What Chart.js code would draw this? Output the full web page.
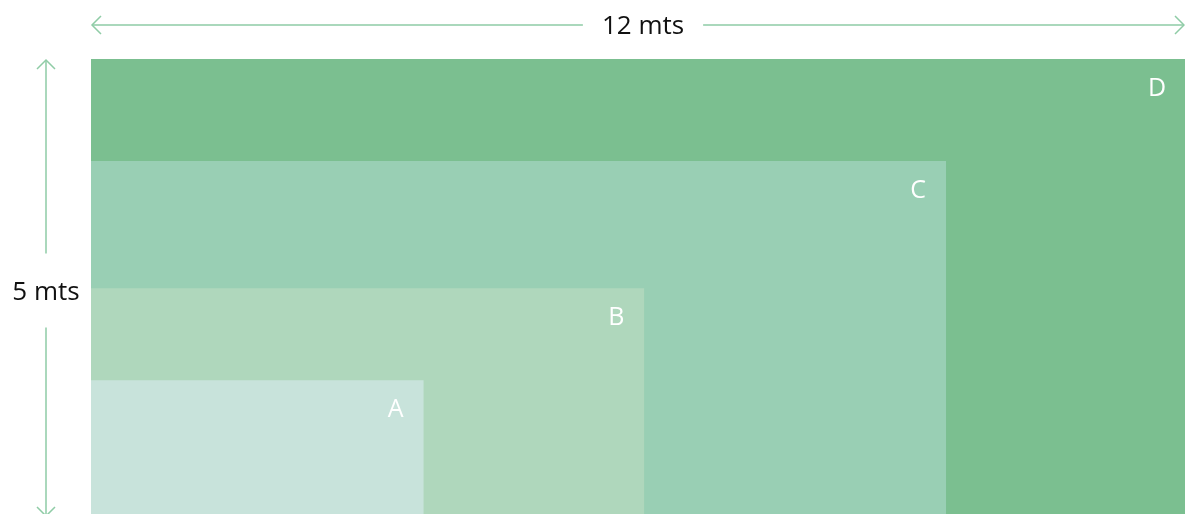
<!DOCTYPE html>
<html>
<head>
<meta charset="utf-8">
<script src="https://cdn.jsdelivr.net/npm/chart.js@4/dist/chart.umd.min.js"></script>
<style>
html,body{margin:0;padding:0;background:#fff;}
#wrap{width:1185px;height:514px;position:relative;}
</style>
</head>
<body>
<div id="wrap"><canvas id="c"></canvas></div>
<script>
// Data
const categories = ['A', 'B', 'C', 'D'];
const widths = [3.65, 6.07, 9.38, 12];   // mts
const heights = [1.47, 2.48, 3.88, 5];   // mts
const totalWidthLabel = '12 mts';
const totalHeightLabel = '5 mts';
const xMax = 12;
const yMax = 5;

const colors = ['#c8e3db', '#afd7bc', '#99cfb4', '#7bbf90'];
const arrowColor = '#8fcca6';
const FONT = '"Open Sans", sans-serif';

const datasets = categories.map((name, i) => ({
  label: name,
  data: [{x: 0, y: heights[i]}, {x: widths[i], y: heights[i]}, {x: widths[i], y: 0}],
  showLine: true,
  fill: 'origin',
  backgroundColor: colors[i],
  borderColor: colors[i],
  borderWidth: 0,
  pointRadius: 0,
  tension: 0,
  order: i
}));

function arrowHead(ctx, x, y, dir) {
  const L = 9;
  ctx.beginPath();
  if (dir === 'left') { ctx.moveTo(x + L, y - L); ctx.lineTo(x, y); ctx.lineTo(x + L, y + L); }
  if (dir === 'right') { ctx.moveTo(x - L, y - L); ctx.lineTo(x, y); ctx.lineTo(x - L, y + L); }
  if (dir === 'up') { ctx.moveTo(x - L, y + L); ctx.lineTo(x, y); ctx.lineTo(x + L, y + L); }
  if (dir === 'down') { ctx.moveTo(x - L, y - L); ctx.lineTo(x, y); ctx.lineTo(x + L, y - L); }
  ctx.stroke();
}

const decor = {
  id: 'decor',
  afterDatasetsDraw(chart) {
    const {ctx, scales: {x, y}} = chart;
    ctx.save();
    // labels on rectangles
    ctx.fillStyle = '#ffffff';
    ctx.font = '400 25px ' + FONT;
    ctx.textAlign = 'center';
    ctx.textBaseline = 'middle';
    categories.forEach((name, i) => {
      const px = x.getPixelForValue(widths[i]) - 28;
      const py = y.getPixelForValue(heights[i]) + 30;
      ctx.fillText(name, px, py);
    });
    // top arrow
    const x0 = x.getPixelForValue(0), x1 = x.getPixelForValue(xMax);
    const y0 = y.getPixelForValue(yMax), y1 = y.getPixelForValue(0);
    const ty = y0 - 34;
    ctx.font = '400 26px ' + FONT;
    ctx.strokeStyle = arrowColor;
    ctx.lineWidth = 1.5;
    const cx = (x0 + x1) / 2 + 5;
    const tw = ctx.measureText(totalWidthLabel).width;
    const gapX = tw / 2 + 19;
    ctx.beginPath();
    ctx.moveTo(x0 + 1, ty); ctx.lineTo(cx - gapX, ty);
    ctx.moveTo(cx + gapX, ty); ctx.lineTo(x1 - 1, ty);
    ctx.stroke();
    arrowHead(ctx, x0 + 1, ty, 'left');
    arrowHead(ctx, x1 - 1, ty, 'right');
    ctx.fillStyle = '#111111';
    ctx.fillText(totalWidthLabel, cx, ty + 2);
    // left arrow
    const lx = x0 - 45;
    const cy = (y0 + y1) / 2 + 4;
    const gapY = 37;
    ctx.beginPath();
    ctx.moveTo(lx, y0 + 1); ctx.lineTo(lx, cy - gapY);
    ctx.moveTo(lx, cy + gapY); ctx.lineTo(lx, y1 + 2);
    ctx.stroke();
    arrowHead(ctx, lx, y0 + 1, 'up');
    arrowHead(ctx, lx, y1 + 2, 'down');
    ctx.fillText(totalHeightLabel, lx, cy + 2);
    ctx.restore();
  }
};

new Chart(document.getElementById('c'), {
  type: 'scatter',
  data: { datasets },
  options: {
    responsive: true,
    maintainAspectRatio: false,
    animation: false,
    layout: { padding: { left: 91, top: 59, right: 0, bottom: 0 } },
    plugins: { legend: { display: false }, tooltip: { enabled: false } },
    scales: {
      x: { type: 'linear', min: 0, max: xMax, display: false },
      y: { type: 'linear', min: 0, max: yMax, display: false }
    }
  },
  plugins: [decor]
});
</script>
</body>
</html>
